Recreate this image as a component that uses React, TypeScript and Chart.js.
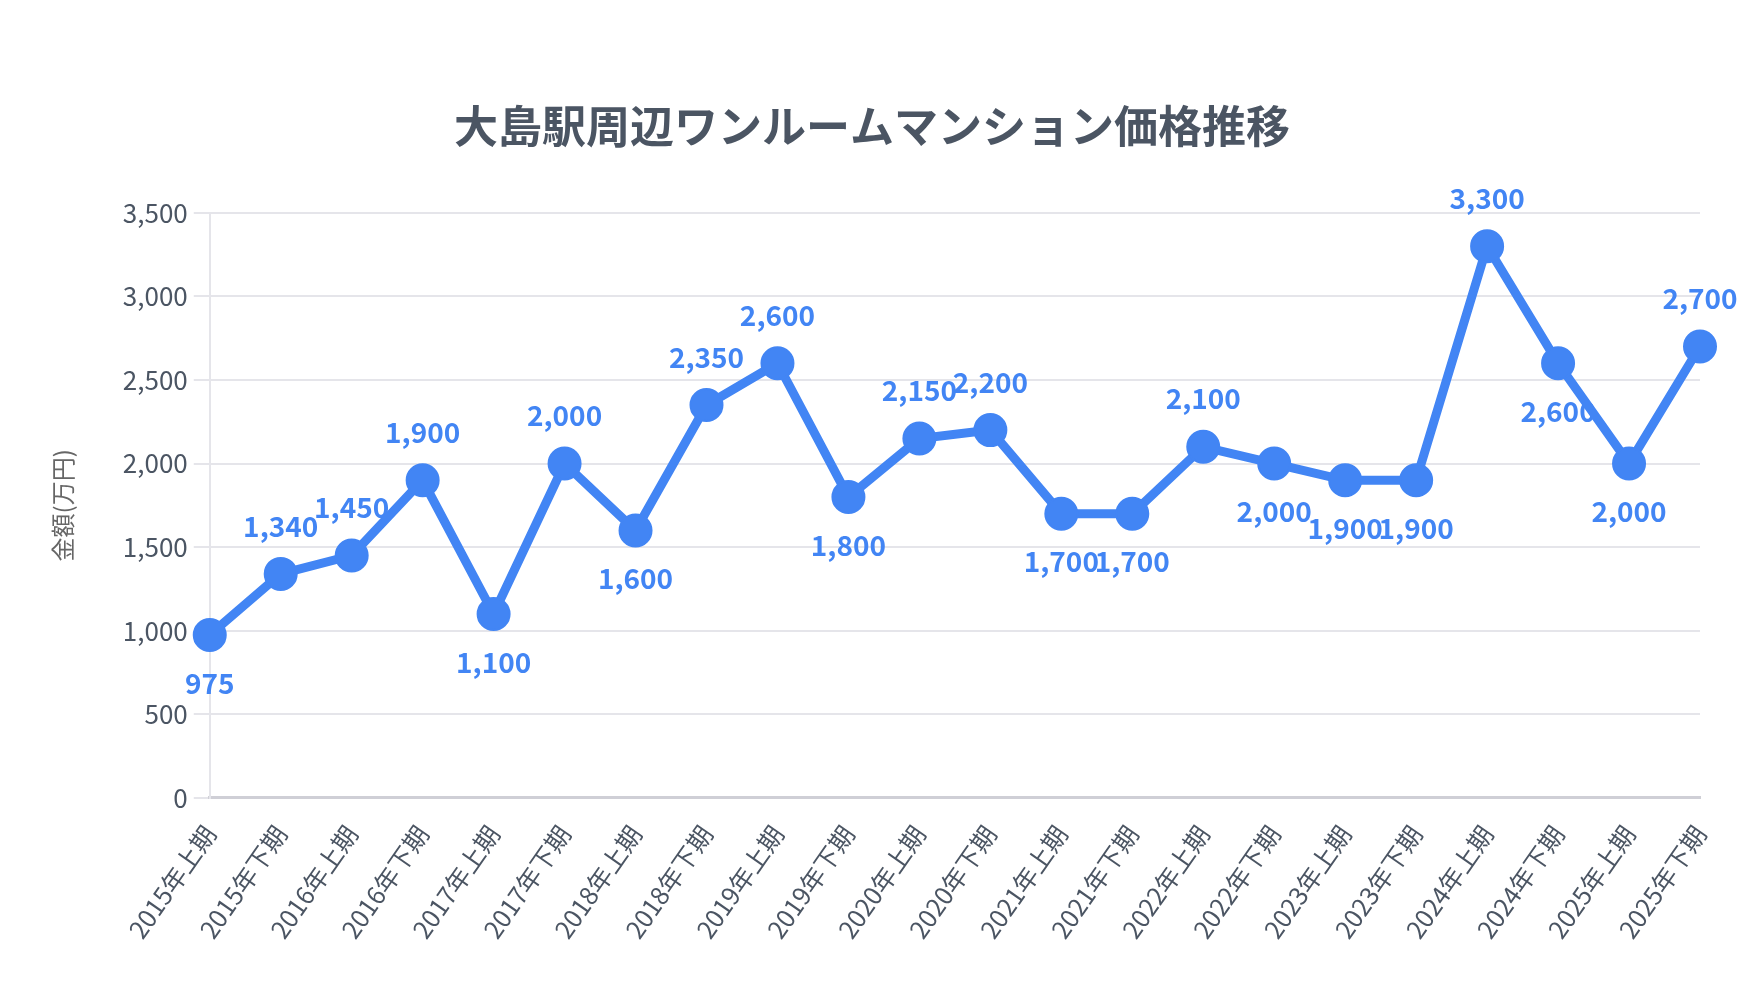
import React, { useEffect, useRef } from "react";
import { Chart, registerables } from "chart.js";

Chart.register(...registerables);

const titleText = "大島駅周辺ワンルームマンション価格推移";
const yAxisTitle = "金額(万円)";
const categories = [
  "2015年上期", "2015年下期", "2016年上期", "2016年下期", "2017年上期", "2017年下期",
  "2018年上期", "2018年下期", "2019年上期", "2019年下期", "2020年上期", "2020年下期",
  "2021年上期", "2021年下期", "2022年上期", "2022年下期", "2023年上期", "2023年下期",
  "2024年上期", "2024年下期", "2025年上期", "2025年下期",
];
const prices = [
  975, 1340, 1450, 1900, 1100, 2000, 1600, 2350, 2600, 1800, 2150, 2200,
  1700, 1700, 2100, 2000, 1900, 1900, 3300, 2600, 2000, 2700,
];
const yMin = 0;
const yMax = 3500;
const yStep = 500;

const FONT = "'Noto Sans CJK JP', 'Noto Sans', sans-serif";
const BLUE = "#4285F4";
const TEXT = "#4B5563";

const valueLabels = {
  id: "valueLabels",
  beforeDatasetsDraw(chart: any) {
    const ctx = chart.ctx;
    const meta = chart.getDatasetMeta(0);
    const data = chart.data.datasets[0].data as number[];
    ctx.save();
    ctx.font = `bold 28px ${FONT}`;
    ctx.fillStyle = BLUE;
    ctx.textAlign = "center";
    ctx.textBaseline = "middle";
    meta.data.forEach((pt: any, i: number) => {
      const above = i > 0 && data[i] > data[i - 1];
      const y = above ? pt.y - 48 : pt.y + 48;
      ctx.fillText(data[i].toLocaleString("en-US"), pt.x, y);
    });
    ctx.restore();
  },
};

export default function App() {
  const ref = useRef<HTMLCanvasElement | null>(null);
  useEffect(() => {
    if (!ref.current) return;
    const chart = new Chart(ref.current, {
      type: "line",
      data: {
        labels: categories,
        datasets: [
          {
            data: prices,
            borderColor: BLUE,
            backgroundColor: BLUE,
            borderWidth: 9,
            pointRadius: 16,
            pointBorderWidth: 2,
            pointBackgroundColor: BLUE,
            pointBorderColor: BLUE,
            tension: 0,
          },
        ],
      },
      options: {
        responsive: true,
        maintainAspectRatio: false,
        animation: false,
        layout: { padding: { top: 92, right: 52, left: 36, bottom: 26 } },
        plugins: {
          legend: { display: false },
          tooltip: { enabled: false },
          title: {
            display: true,
            text: titleText,
            color: TEXT,
            font: { family: FONT, size: 44, weight: "bold" },
            padding: { top: 0, bottom: 60 },
          },
        },
        scales: {
          x: {
            offset: false,
            grid: { display: false, drawTicks: false },
            border: { color: "#CFCFD6", width: 3 },
            ticks: {
              color: TEXT,
              font: { family: FONT, size: 25 },
              maxRotation: 55,
              minRotation: 55,
              autoSkip: false,
              padding: 22,
            },
          },
          y: {
            min: yMin,
            max: yMax,
            grid: { color: "#E5E5EA", lineWidth: 2, tickLength: 16 },
            border: { color: "#E5E5EA", width: 2 },
            ticks: {
              stepSize: yStep,
              color: TEXT,
              font: { family: FONT, size: 26 },
              padding: 6,
              callback: (v: any) => Number(v).toLocaleString("en-US"),
            },
            title: {
              display: true,
              text: yAxisTitle,
              color: "#666",
              font: { family: FONT, size: 24 },
              padding: { bottom: 40 },
            },
          },
        },
      },
      plugins: [valueLabels],
    });
    return () => chart.destroy();
  }, []);
  return (
    <div style={{ width: 1744, height: 984 }}>
      <canvas ref={ref} />
    </div>
  );
}
